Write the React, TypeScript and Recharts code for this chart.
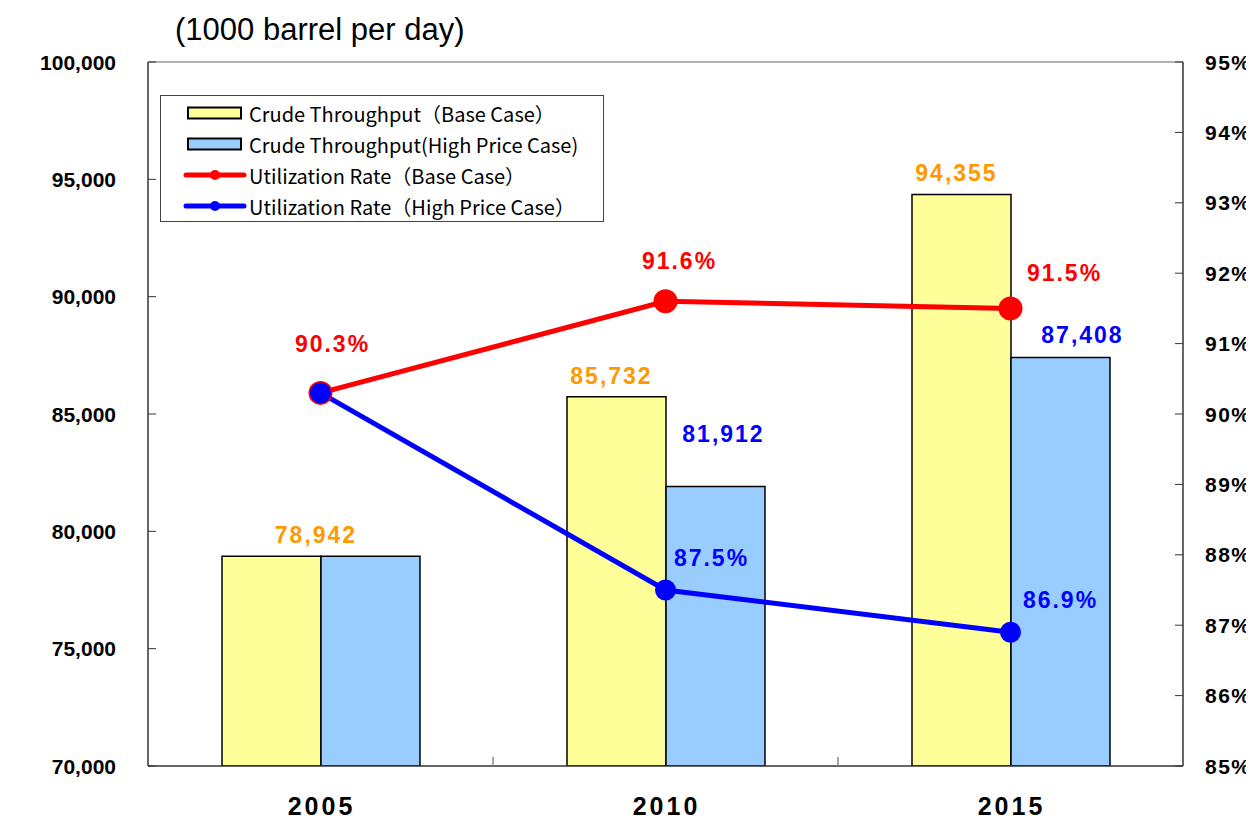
import {
  ComposedChart,
  Bar,
  Line,
  XAxis,
  YAxis,
  ReferenceLine,
  LabelList,
  Legend,
} from 'recharts';

// chart data
const years = ['2005', '2010', '2015'];
const throughputBase = [78942, 85732, 94355];
const throughputHigh = [78942, 81912, 87408];
const rateBase = [90.3, 91.6, 91.5];
const rateHigh = [90.3, 87.5, 86.9];
const leftTicks = [70000, 75000, 80000, 85000, 90000, 95000, 100000];
const rightTicks = [85, 86, 87, 88, 89, 90, 91, 92, 93, 94, 95];

const data = years.map((year, i) => ({
  year,
  base: throughputBase[i],
  high: throughputHigh[i],
  rateBase: rateBase[i],
  rateHigh: rateHigh[i],
}));

// layout (the wrapper cancels the body margin, so these are page pixels)
const W = 1254;
const H = 823;
const LEFT_W = 148;
const RIGHT_W = 71;
const PLOT_W = W - LEFT_W - RIGHT_W;
const BAND = PLOT_W / years.length;
const LEFT_MARGIN = 32;
const RIGHT_MARGIN = 22;

// label nudges (px) relative to the anchor
const highLabelNudge = [
  [0, 0],
  [8, -52],
  [22, -22],
];
const rateBaseNudge = [
  [12, -49],
  [14, -40],
  [54, -35],
];
const rateHighNudge = [
  [0, 0],
  [46, -32],
  [50, -32],
];

const ORANGE = '#FF9900';
const RED = '#FF0000';
const BLUE = '#0000FF';
const YELLOW = '#FFFF99';
const LIGHTBLUE = '#99CCFF';
const AXIS = '#333';

const tickFont = { fontFamily: '"Liberation Sans", Arial, sans-serif', fontWeight: 700 };
const valueStyle = {
  fontFamily: '"Liberation Sans", Arial, sans-serif',
  fontWeight: 700,
  fontSize: 23,
  letterSpacing: 2,
};

const LeftTick = (props: any) => {
  const { x, y, payload } = props;
  const ax = x + LEFT_MARGIN;
  return (
    <g>
      <line x1={ax} x2={ax + 8} y1={y} y2={y} stroke={AXIS} />
      <text x={x} y={y} textAnchor="end" dominantBaseline="central" fontSize={21} fill="#000" style={tickFont}>
        {payload.value.toLocaleString('en-US')}
      </text>
    </g>
  );
};

const RightTick = (props: any) => {
  const { x, y, payload } = props;
  const ax = x - RIGHT_MARGIN;
  return (
    <g>
      <line x1={ax} x2={ax - 8} y1={y} y2={y} stroke={AXIS} />
      <text x={x} y={y} textAnchor="start" dominantBaseline="central" fontSize={21} fill="#000" style={{ ...tickFont, letterSpacing: 1.5 }}>
        {payload.value + '%'}
      </text>
    </g>
  );
};

const XTick = (props: any) => {
  const { x, y, payload, index } = props;
  return (
    <g>
      {index < years.length - 1 && (
        <line x1={x + BAND / 2} x2={x + BAND / 2} y1={y} y2={y - 9} stroke="#888" strokeWidth={1.5} />
      )}
      <text x={x + 1} y={y + 40} textAnchor="middle" dominantBaseline="central" fontSize={25} fill="#000" style={{ ...tickFont, letterSpacing: 3 }}>
        {payload.value}
      </text>
    </g>
  );
};

const BaseBarLabel = (props: any) => {
  const { x, y, width, value, index } = props;
  // when both cases are equal, one label sits over the pair
  const cx = throughputHigh[index] === throughputBase[index] ? x + width : x + width / 2;
  return (
    <text x={cx - 5} y={y - 21} textAnchor="middle" dominantBaseline="central" fill={ORANGE} style={valueStyle}>
      {Number(value).toLocaleString('en-US')}
    </text>
  );
};

const HighBarLabel = (props: any) => {
  const { x, y, width, value, index } = props;
  if (throughputHigh[index] === throughputBase[index]) return null;
  const [dx, dy] = highLabelNudge[index];
  return (
    <text x={x + width / 2 + dx} y={y + dy} textAnchor="middle" dominantBaseline="central" fill={BLUE} style={valueStyle}>
      {Number(value).toLocaleString('en-US')}
    </text>
  );
};

const RateBaseLabel = (props: any) => {
  const { x, y, value, index } = props;
  const [dx, dy] = rateBaseNudge[index];
  return (
    <text x={x + dx} y={y + dy} textAnchor="middle" dominantBaseline="central" fill={RED} style={valueStyle}>
      {Number(value).toFixed(1) + '%'}
    </text>
  );
};

const RateHighLabel = (props: any) => {
  const { x, y, value, index } = props;
  if (rateHigh[index] === rateBase[index]) return null;
  const [dx, dy] = rateHighNudge[index];
  return (
    <text x={x + dx} y={y + dy} textAnchor="middle" dominantBaseline="central" fill={BLUE} style={valueStyle}>
      {Number(value).toFixed(1) + '%'}
    </text>
  );
};

const legendItems = [
  { label: 'Crude Throughput（Base Case）', kind: 'bar', color: YELLOW },
  { label: 'Crude Throughput(High Price Case)', kind: 'bar', color: LIGHTBLUE },
  { label: 'Utilization Rate（Base Case）', kind: 'line', color: RED },
  { label: 'Utilization Rate（High Price Case）', kind: 'line', color: BLUE },
];

const LegendBox = () => (
  <div
    style={{
      width: 444,
      height: 127,
      border: '1px solid #444',
      background: '#fff',
      boxSizing: 'border-box',
      position: 'relative',
    }}
  >
    {legendItems.map((item, i) => (
      <div
        key={item.label}
        style={{
          position: 'absolute',
          left: 0,
          top: 17 + i * 31 - 12,
          height: 24,
          display: 'flex',
          alignItems: 'center',
        }}
      >
        <svg width={88} height={24}>
          {item.kind === 'bar' ? (
            <rect x={27} y={6.5} width={53} height={11} fill={item.color} stroke="#000" strokeWidth={2} />
          ) : (
            <g>
              <line x1={25} x2={83} y1={12} y2={12} stroke={item.color} strokeWidth={5} strokeLinecap="round" />
              <circle cx={54} cy={12} r={5} fill={item.color} />
            </g>
          )}
        </svg>
        <span
          style={{
            fontFamily: '"Noto Sans CJK JP", "Noto Sans", sans-serif',
            fontSize: 20,
            color: '#000',
            whiteSpace: 'nowrap',
          }}
        >
          {item.label}
        </span>
      </div>
    ))}
  </div>
);

export default function App() {
  return (
    <div style={{ position: 'relative', width: W, height: H, margin: -8 }}>
      <div
        style={{
          position: 'absolute',
          left: 175,
          top: 14,
          fontFamily: '"Liberation Sans", Arial, sans-serif',
          fontSize: 31,
          lineHeight: '32px',
          color: '#000',
          whiteSpace: 'nowrap',
        }}
      >
        (1000 barrel per day)
      </div>
      <ComposedChart
        width={W}
        height={H}
        data={data}
        margin={{ top: 62, right: 0, bottom: 7, left: 0 }}
        barSize={99}
        barGap={0}
      >
        <XAxis
          dataKey="year"
          height={50}
          tickLine={false}
          tickSize={0}
          tickMargin={0}
          axisLine={{ stroke: AXIS, strokeWidth: 1.5 }}
          tick={<XTick />}
          interval={0}
        />
        <YAxis
          yAxisId="left"
          orientation="left"
          width={LEFT_W}
          domain={[70000, 100000]}
          ticks={leftTicks}
          interval={0}
          tickLine={false}
          tickSize={0}
          tickMargin={LEFT_MARGIN}
          axisLine={{ stroke: AXIS, strokeWidth: 1.5 }}
          tick={<LeftTick />}
          allowDataOverflow
        />
        <YAxis
          yAxisId="right"
          orientation="right"
          width={RIGHT_W}
          domain={[85, 95]}
          ticks={rightTicks}
          interval={0}
          tickLine={false}
          tickSize={0}
          tickMargin={RIGHT_MARGIN}
          axisLine={{ stroke: AXIS, strokeWidth: 1.5 }}
          tick={<RightTick />}
        />
        <ReferenceLine yAxisId="left" y={100000} stroke="#999" strokeWidth={1.5} />
        <Legend
          layout="horizontal"
          verticalAlign="middle"
          align="center"
          content={() => <LegendBox />}
          wrapperStyle={{ position: 'absolute', left: 160, top: 95, width: 444, height: 127 }}
        />
        <Bar yAxisId="left" dataKey="base" fill={YELLOW} stroke="#000" strokeWidth={1.5} isAnimationActive={false}>
          <LabelList dataKey="base" content={<BaseBarLabel />} />
        </Bar>
        <Bar yAxisId="left" dataKey="high" fill={LIGHTBLUE} stroke="#000" strokeWidth={1.5} isAnimationActive={false}>
          <LabelList dataKey="high" content={<HighBarLabel />} />
        </Bar>
        <Line
          yAxisId="right"
          dataKey="rateBase"
          stroke={RED}
          strokeWidth={5}
          dot={{ r: 12, fill: RED, stroke: 'none' }}
          isAnimationActive={false}
        >
          <LabelList dataKey="rateBase" content={<RateBaseLabel />} />
        </Line>
        <Line
          yAxisId="right"
          dataKey="rateHigh"
          stroke={BLUE}
          strokeWidth={5}
          dot={{ r: 10.5, fill: BLUE, stroke: 'none' }}
          isAnimationActive={false}
        >
          <LabelList dataKey="rateHigh" content={<RateHighLabel />} />
        </Line>
      </ComposedChart>
    </div>
  );
}
